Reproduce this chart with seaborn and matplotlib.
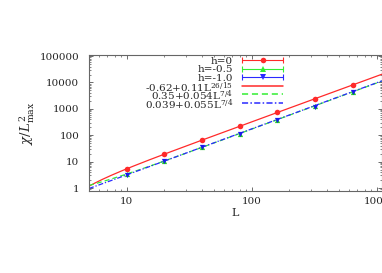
import numpy as np
import pandas as pd
import matplotlib
matplotlib.use("Agg")
import matplotlib.pyplot as plt
import seaborn as sns
from matplotlib.lines import Line2D

# valeurs
L = [10, 20, 40, 80, 160, 320, 640]
chi_h0 = [5.4, 19.5, 66, 222, 740, 2450, 7900]
chi_h05 = [3.4, 10.6, 34.5, 116, 390, 1330, 4450]
chi_h10 = [3.1, 10.3, 34.5, 116, 385, 1150, 4400]

# coefficients des ajustements (a + b L^p), lus dans la legende
fit_h0 = (-0.62, 0.11, 26 / 15)
fit_h05 = (0.35, 0.054, 7 / 4)
fit_h10 = (0.039, 0.055, 7 / 4)

labels_pts = ["h=0", "h=-0.5", "h=-1.0"]
labels_fit = [r"-0.62+0.11L$^{26/15}$", r"0.35+0.054L$^{7/4}$", r"0.039+0.055L$^{7/4}$"]

rouge, vert, bleu = "#ff2a2a", "#33ee33", "#2a2aff"
tirets_vert = (0, (4, 2.5))
tirets_bleu = (0, (4, 1.5, 1, 1.5))

sns.set_style("ticks")
plt.rcParams["font.family"] = ["DejaVu Serif"]
plt.rcParams["mathtext.fontset"] = "dejavuserif"

W, H = 382, 273
fig = plt.figure(figsize=(W / 100, H / 100), dpi=100)
ax = fig.add_axes([89 / W, 1 - 191 / H, (W - 89) / W, (191 - 55) / H])

Lf = np.logspace(np.log10(5), np.log10(1100), 200)
courbes = pd.DataFrame({"L": Lf})
for nom, (a, b, p) in zip(["f0", "f05", "f10"], [fit_h0, fit_h05, fit_h10]):
    courbes[nom] = a + b * Lf ** p

sns.lineplot(data=courbes, x="L", y="f0", ax=ax, color=rouge, lw=0.9, ls="-")
sns.lineplot(data=courbes, x="L", y="f05", ax=ax, color=vert, lw=0.9, ls=tirets_vert)
sns.lineplot(data=courbes, x="L", y="f10", ax=ax, color=bleu, lw=0.9, ls=tirets_bleu)

pts = pd.DataFrame({"L": L, "h0": chi_h0, "h05": chi_h05, "h10": chi_h10})
sns.scatterplot(data=pts, x="L", y="h0", ax=ax, color=rouge, marker="o", s=16, linewidth=0, zorder=5)
sns.scatterplot(data=pts, x="L", y="h05", ax=ax, color="#22cc22", marker="^", s=14, linewidth=0, zorder=5)
sns.scatterplot(data=pts, x="L", y="h10", ax=ax, color="#1a1aee", marker="v", s=14, linewidth=0, zorder=6)

ax.set_xscale("log")
ax.set_yscale("log")
ax.set_xlim(5, 1100)
ax.set_ylim(0.77, 1.1e5)
ax.set_xticks([10, 100, 1000])
ax.set_xticklabels(["10", "100", "1000"])
ax.set_yticks([1, 10, 100, 1000, 10000, 100000])
ax.set_yticklabels(["1", "10", "100", "1000", "10000", "100000"])
ax.tick_params(which="both", direction="in", top=True, right=True, labelsize=7.5, color="#555555")
ax.tick_params(which="major", length=3, width=0.6)
ax.tick_params(which="minor", length=1.6, width=0.5)
ax.tick_params(axis="y", pad=7)
ax.tick_params(axis="x", pad=4)
for s in ax.spines.values():
    s.set_linewidth(0.8)
    s.set_color("#666666")
ax.set_xlabel("L", fontsize=8, labelpad=2)
ax.set_ylabel(r"$\chi/L^2_{\rm max}$", fontsize=9.5, labelpad=2)

# legende facon gnuplot : texte aligne a droite, echantillon a droite
x_txt, x0, x1 = 233 / W, 242 / W, 283 / W
styles = [(rouge, "o", "-"), (vert, "^", "-"), (bleu, "v", "-"),
          (rouge, None, "-"), (vert, None, tirets_vert), (bleu, None, tirets_bleu)]
for i, (lab, (c, m, ls)) in enumerate(zip(labels_pts + labels_fit, styles)):
    y = 1 - (60 + 8.6 * i) / H
    fig.text(x_txt, y, lab, ha="right", va="center_baseline", fontsize=7.5)
    fig.add_artist(Line2D([x0, x1], [y, y], color=c, ls=ls,
                          lw=0.8 if m else 1.1, transform=fig.transFigure))
    if m:
        fig.add_artist(Line2D([x0, x1], [y, y], lw=0, marker="|", ms=4, mew=0.8,
                              color=c, transform=fig.transFigure))
        fig.add_artist(Line2D([(x0 + x1) / 2], [y], lw=0, marker=m, ms=4, mew=0,
                              color=c, transform=fig.transFigure))

fig.savefig("out.png", dpi=100)
